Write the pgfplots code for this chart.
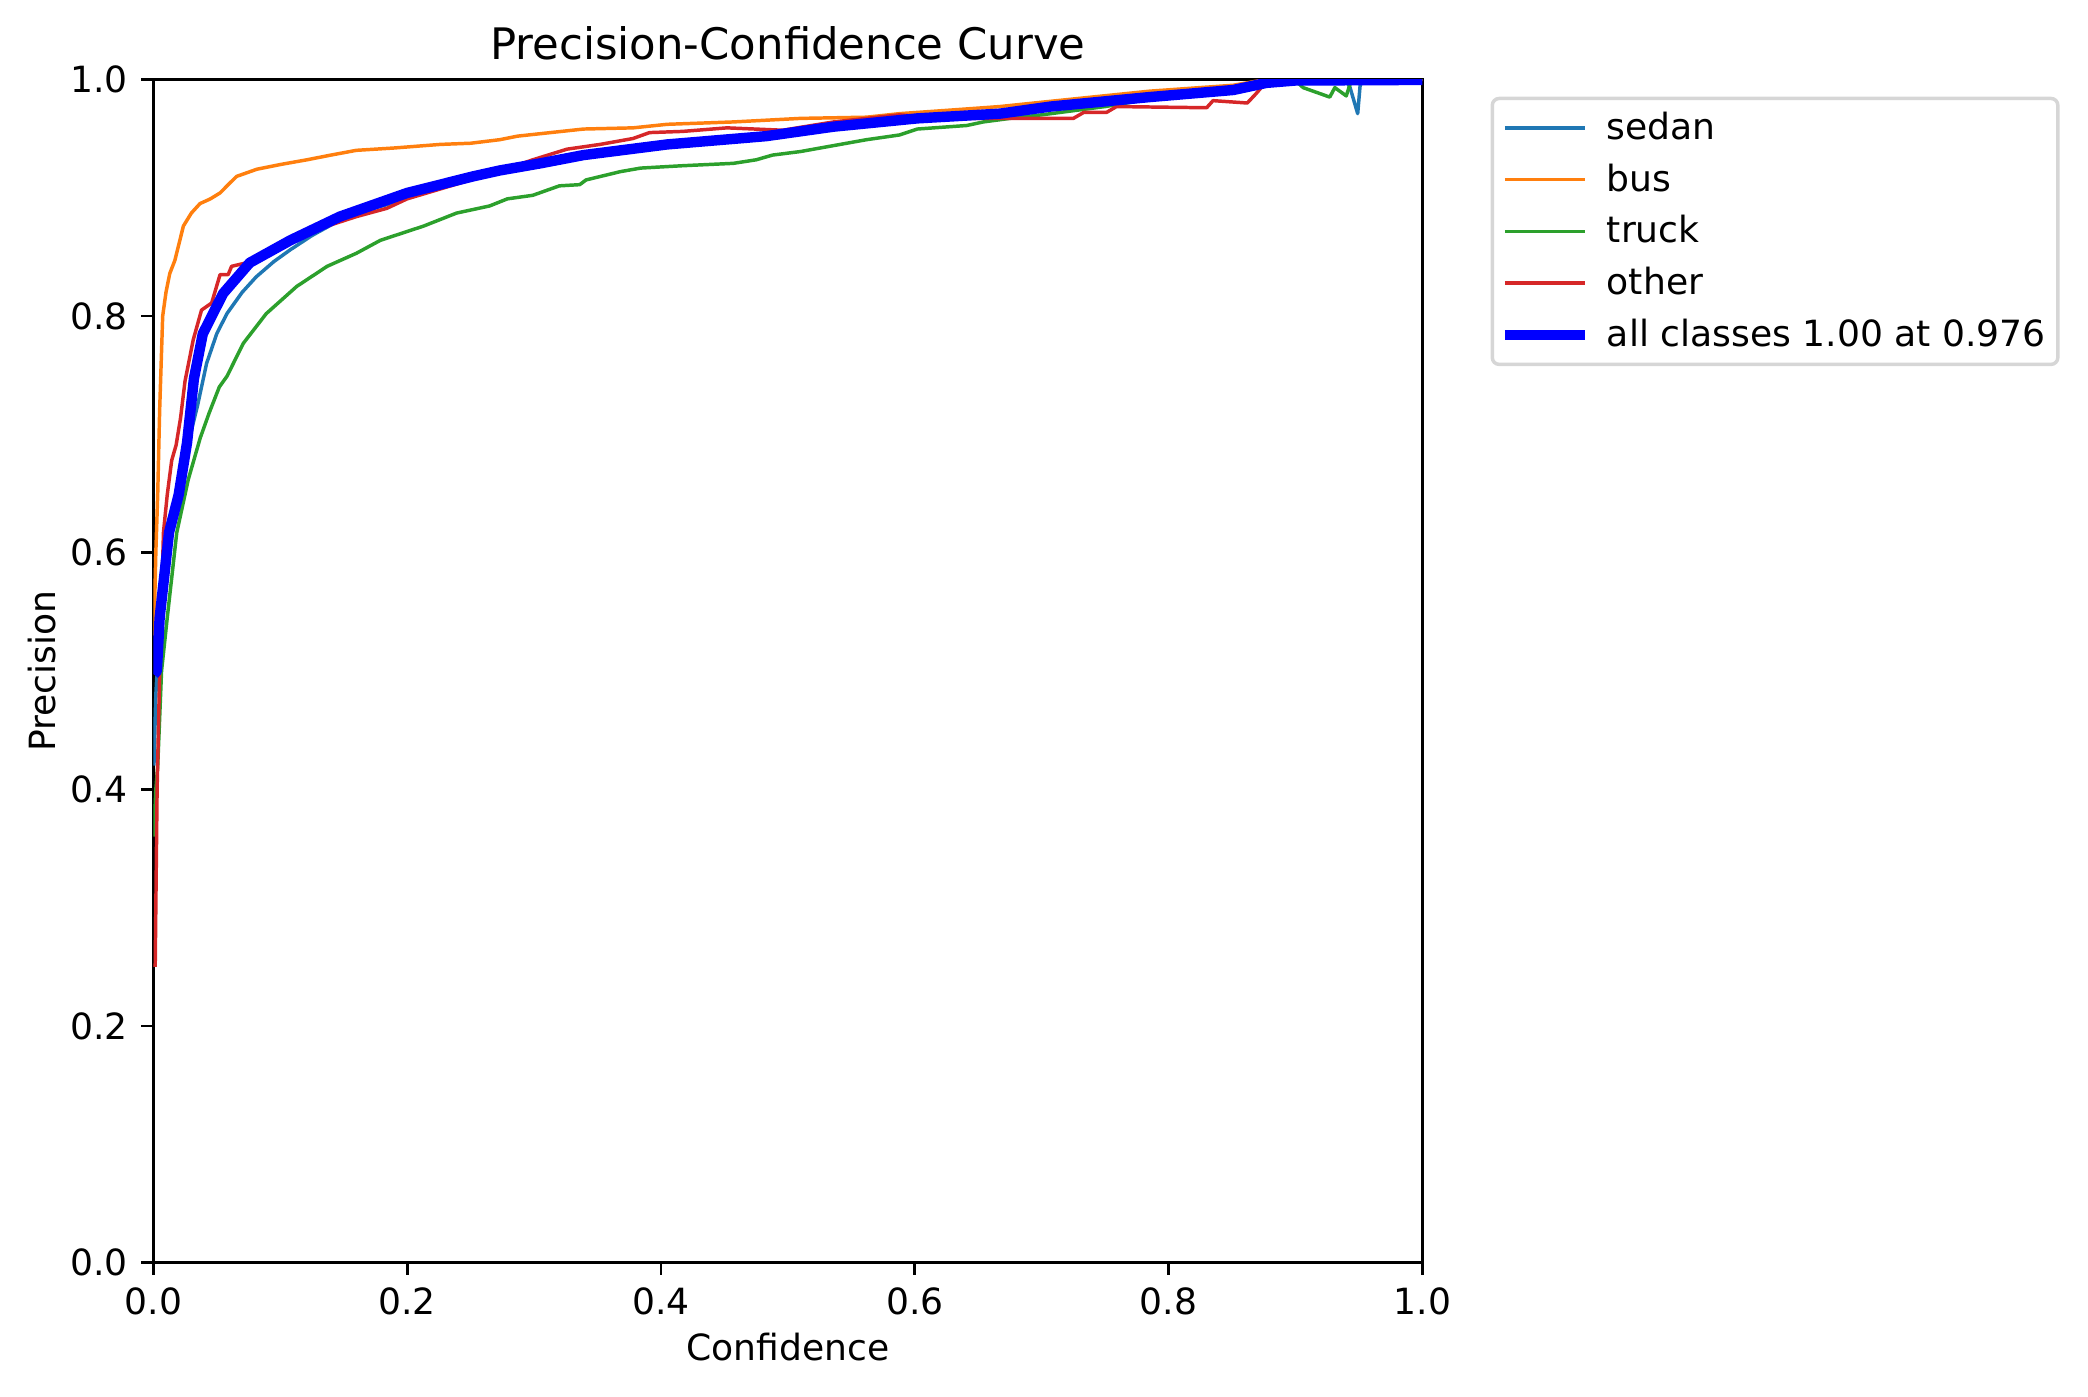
\documentclass[border=0pt]{standalone}
\usepackage{fontspec}
\setmainfont{DejaVu Sans}
\usepackage{pgfplots}
\pgfplotsset{compat=1.18}

% matplotlib tab10 colours
\definecolor{cSedan}{HTML}{1F77B4}
\definecolor{cBus}{HTML}{FF7F0E}
\definecolor{cTruck}{HTML}{2CA02C}
\definecolor{cOther}{HTML}{D62728}
\definecolor{cAll}{HTML}{0000FF}

\begin{document}
\begin{tikzpicture}[font=\fontsize{10.4}{12.5}\selectfont]
\begin{axis}[
  name=ax,
  scale only axis,
  width=365.5pt, height=340.8pt,
  xmin=0, xmax=1, ymin=0, ymax=1,
  xtick={0,0.2,0.4,0.6,0.8,1},
  ytick={0,0.2,0.4,0.6,0.8,1},
  tick align=outside,
  major tick length=3.5pt,
  xtick pos=left, ytick pos=left,
  every tick/.style={black, line width=0.8pt},
  axis line style={line width=0.8pt},
  /pgf/number format/assume math mode=true,
  xticklabel={\pgfmathprintnumber[fixed,fixed zerofill,precision=1]{\tick}},
  yticklabel={\pgfmathprintnumber[fixed,fixed zerofill,precision=1]{\tick}},
  every x tick label/.style={anchor=north, inner sep=0pt, yshift=-3.5pt},
  every y tick label/.style={anchor=east, inner sep=0pt, xshift=-3.7pt},
  title={Precision-Confidence Curve},
  every axis title/.style={at={(axis description cs:0.5,1)}, anchor=base,
    yshift=5.6pt, inner sep=0pt, font=\fontsize{12.5}{15}\selectfont},
  xlabel={Confidence},
  ylabel={Precision},
  every axis x label/.style={at={(axis description cs:0.5,-0.0823)}, anchor=base, inner sep=0pt},
  every axis y label/.style={at={(axis description cs:-0.0774,0.5)}, rotate=90, anchor=base, inner sep=0pt},
  legend image code/.code={%
    \path (0pt,0pt) -- (21.6pt,0pt);
    \draw[#1, overlay] (-1.4pt,0pt) -- (20.2pt,0pt);},
  legend cell align=left,
  legend style={
    at={(axis description cs:1.04,1)}, anchor=north west,
    xshift=5pt, yshift=-5pt,
    draw=black!16, line width=1pt, rounded corners=2pt,
    inner xsep=3.5pt, inner ysep=3pt,
    row sep=3.9pt, column sep=4.9pt,
    nodes={inner sep=0pt, text height=8.8pt, text depth=2.2pt},
  },
]
\addplot[cSedan, line width=1pt, line join=round] coordinates {
(0.0005,0.42) (0.002,0.48) (0.003,0.50) (0.006,0.55) (0.012,0.61) (0.020,0.645)
(0.027,0.69) (0.035,0.725) (0.042,0.760) (0.050,0.785) (0.058,0.802) (0.070,0.820)
(0.081,0.833) (0.095,0.846) (0.108,0.856) (0.125,0.868) (0.147,0.881) (0.167,0.889)
(0.187,0.895) (0.200,0.900) (0.250,0.916) (0.300,0.927) (0.350,0.936) (0.400,0.945)
(0.450,0.950) (0.500,0.955) (0.550,0.961) (0.600,0.967) (0.650,0.971) (0.700,0.976)
(0.750,0.981) (0.800,0.986) (0.850,0.992) (0.880,0.998) (0.900,0.9995) (0.940,0.999)
(0.943,0.993) (0.949,0.971) (0.951,0.996) (0.960,0.999) (1.000,1.000)
};
\addlegendentry{sedan}
\addplot[cBus, line width=1pt, line join=round] coordinates {
(0.0005,0.53) (0.002,0.60) (0.0035,0.65) (0.005,0.72) (0.0065,0.77) (0.0074,0.80)
(0.010,0.82) (0.013,0.836) (0.017,0.847) (0.020,0.860) (0.0237,0.876) (0.030,0.887)
(0.0368,0.895) (0.045,0.899) (0.0526,0.904) (0.060,0.912) (0.0657,0.918) (0.0815,0.924)
(0.100,0.928) (0.121,0.932) (0.140,0.936) (0.160,0.940) (0.190,0.942) (0.226,0.945)
(0.250,0.946) (0.273,0.949) (0.287,0.952) (0.313,0.955) (0.339,0.958) (0.378,0.959)
(0.405,0.962) (0.457,0.964) (0.510,0.967) (0.562,0.968) (0.588,0.971) (0.628,0.974)
(0.667,0.977) (0.694,0.980) (0.785,0.990) (0.851,0.995) (0.872,0.999) (0.900,1.000)
(1.000,1.000)
};
\addlegendentry{bus}
\addplot[cTruck, line width=1pt, line join=round] coordinates {
(0.0005,0.36) (0.002,0.40) (0.0035,0.42) (0.0065,0.50) (0.011,0.545) (0.0185,0.617)
(0.0276,0.662) (0.037,0.697) (0.044,0.718) (0.052,0.740) (0.058,0.749) (0.071,0.777)
(0.089,0.802) (0.113,0.825) (0.137,0.842) (0.160,0.853) (0.179,0.864) (0.213,0.876)
(0.239,0.887) (0.265,0.893) (0.279,0.899) (0.299,0.902) (0.320,0.910) (0.336,0.911)
(0.341,0.915) (0.368,0.922) (0.384,0.925) (0.417,0.927) (0.457,0.929) (0.475,0.932)
(0.488,0.936) (0.510,0.939) (0.536,0.944) (0.562,0.949) (0.588,0.953) (0.602,0.958)
(0.641,0.961) (0.654,0.964) (0.675,0.967) (0.700,0.970) (0.750,0.977) (0.800,0.986)
(0.850,0.993) (0.880,0.999) (0.900,0.999) (0.906,0.993) (0.927,0.985) (0.931,0.993)
(0.940,0.986) (0.943,0.996) (0.950,1.000) (1.000,1.000)
};
\addlegendentry{truck}
\addplot[cOther, line width=1pt, line join=round] coordinates {
(0.0015,0.25) (0.002,0.30) (0.003,0.40) (0.005,0.497) (0.008,0.617) (0.011,0.649)
(0.0145,0.678) (0.018,0.691) (0.0215,0.714) (0.025,0.745) (0.0315,0.780) (0.038,0.805)
(0.046,0.811) (0.0526,0.835) (0.059,0.835) (0.0617,0.842) (0.0736,0.845) (0.090,0.853)
(0.110,0.864) (0.137,0.876) (0.160,0.884) (0.184,0.891) (0.200,0.899) (0.250,0.915)
(0.280,0.925) (0.299,0.932) (0.326,0.941) (0.352,0.945) (0.378,0.950) (0.391,0.955)
(0.417,0.956) (0.452,0.959) (0.496,0.957) (0.536,0.964) (0.588,0.970) (0.600,0.969)
(0.630,0.967) (0.675,0.967) (0.725,0.967) (0.733,0.972) (0.751,0.972) (0.759,0.977)
(0.830,0.976) (0.835,0.982) (0.862,0.980) (0.869,0.988) (0.877,0.998) (0.900,1.000)
(1.000,1.000)
};
\addlegendentry{other}
\addplot[cAll, line width=3pt, line join=round] coordinates {
(0.0005,0.497) (0.0028,0.500) (0.005,0.545) (0.0124,0.617) (0.020,0.649) (0.0266,0.693)
(0.032,0.747) (0.039,0.785) (0.055,0.819) (0.076,0.845) (0.108,0.864) (0.147,0.884)
(0.200,0.904) (0.252,0.918) (0.273,0.923) (0.305,0.929) (0.339,0.936) (0.405,0.945)
(0.483,0.952) (0.536,0.960) (0.602,0.967) (0.667,0.971) (0.707,0.977) (0.785,0.985)
(0.851,0.991) (0.877,0.997) (0.900,0.999) (1.000,0.9995)
};
\addlegendentry{all classes 1.00 at 0.976}
\end{axis}
\pgfresetboundingbox
\path (ax.south west) ++(-44.15pt,-38.4pt) rectangle ++(601.34pt,402.05pt);
\end{tikzpicture}
\end{document}
